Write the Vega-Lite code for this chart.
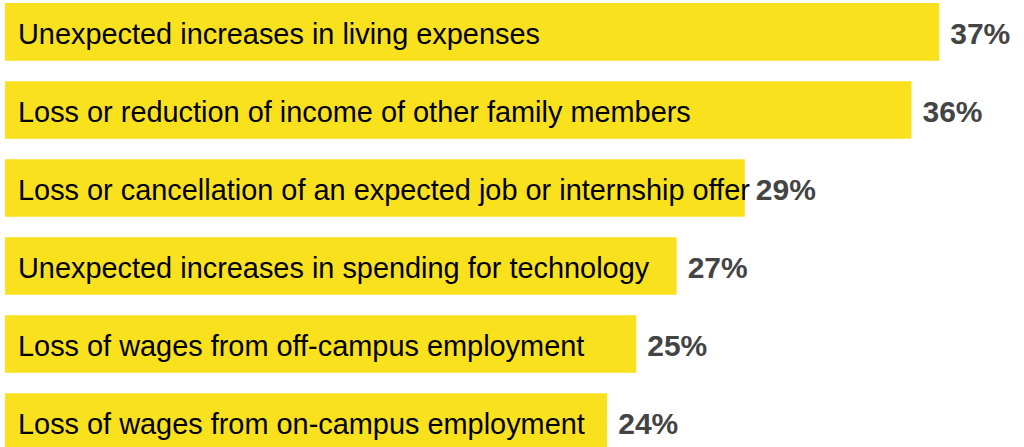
{
  "$schema": "https://vega.github.io/schema/vega-lite/v6.json",
  "width": 1010,
  "height": 454,
  "autosize": {"type": "none"},
  "padding": {"left": 5, "top": 0, "right": 0, "bottom": 0},
  "background": "white",
  "config": {"view": {"stroke": null}},
  "data": {
    "values": [
      {"reason": "Unexpected increases in living expenses", "value": 37.0, "label": "37%"},
      {"reason": "Loss or reduction of income of other family members", "value": 35.9, "label": "36%"},
      {"reason": "Loss or cancellation of an expected job or internship offer", "value": 29.3, "label": "29%"},
      {"reason": "Unexpected increases in spending for technology", "value": 26.6, "label": "27%"},
      {"reason": "Loss of wages from off-campus employment", "value": 25.0, "label": "25%"},
      {"reason": "Loss of wages from on-campus employment", "value": 23.85, "label": "24%"}
    ]
  },
  "encoding": {
    "y": {
      "field": "reason",
      "type": "nominal",
      "sort": null,
      "axis": null,
      "scale": {"paddingInner": 0.26, "paddingOuter": 0.04}
    }
  },
  "layer": [
    {
      "mark": {"type": "bar", "color": "#F9E11E"},
      "encoding": {
        "x": {"field": "value", "type": "quantitative", "axis": null, "scale": {"domain": [0, 40]}}
      }
    },
    {
      "mark": {"type": "text", "align": "left", "baseline": "middle", "dx": 13, "dy": 3, "font": "Liberation Sans", "fontSize": 28.9, "color": "#000000"},
      "encoding": {
        "x": {"datum": 0, "type": "quantitative"},
        "text": {"field": "reason"}
      }
    },
    {
      "mark": {"type": "text", "align": "left", "baseline": "middle", "dx": 11, "dy": 3, "font": "Liberation Sans", "fontWeight": "bold", "fontSize": 30, "color": "#444444"},
      "encoding": {
        "x": {"field": "value", "type": "quantitative"},
        "text": {"field": "label"}
      }
    }
  ]
}
